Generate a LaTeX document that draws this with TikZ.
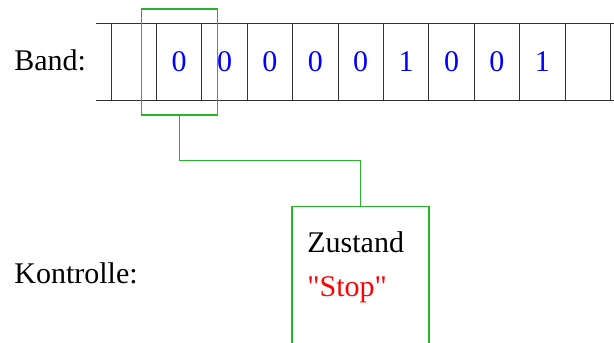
\documentclass[tikz,border=0pt]{standalone}
\usepackage{fontspec}
\setmainfont{Liberation Serif}[Ligatures=TeXOff]
\usepackage{xcolor}
\definecolor{HEADCOLOR}{RGB}{40,180,40}
\colorlet{TAPECOLOR}{black!80}
\colorlet{DIGITCOLOR}{blue}
\colorlet{STATECOLOR}{red}
\usetikzlibrary{positioning,calc}
\tikzset{
  text-style/.style = {
    inner sep=0pt, anchor=base west,
    font=\fontsize{15}{18}\selectfont
  },
  cell-style/.style = {
    rectangle, draw=TAPECOLOR, line width=0.5pt,
    minimum width=22.7pt, minimum height=38pt,
    inner sep=0pt, text=DIGITCOLOR,
    font=\fontsize{15}{18}\selectfont
  },
  tape-style/.style = {
    draw=TAPECOLOR, line width=0.5pt
  },
  head-style/.style = {
    rectangle, draw=HEADCOLOR, line width=0.6pt,
    minimum width=38pt, minimum height=53pt
  },
  state-style/.style = {
    rectangle, draw=HEADCOLOR, line width=0.6pt,
    minimum width=68.5pt, minimum height=90pt
  },
  link-style/.style = {
    draw=HEADCOLOR, line width=0.6pt
  }
}

\begin{document}
\begin{tikzpicture}[x=0.5pt,y=-0.5pt]
    \useasboundingbox (0,0) rectangle (614,342);

    %%% tape
    \foreach \d [count=\i] in {{},0,0,0,0,0,1,0,0,1,{}} {
      \node[cell-style] (cell-\i) at ({111+45.4*(\i-0.5)},62) {\d};
    }
    \draw[tape-style] ([xshift=-7.5pt]cell-1.north west) -- ([xshift=2pt]cell-11.north east);
    \draw[tape-style] ([xshift=-7.5pt]cell-1.south west) -- ([xshift=2pt]cell-11.south east);

    %%% head and control
    \node[head-style] (head) at (cell-2) {};
    \node[state-style,anchor=north] (state) at (360.5,206) {};
    \draw[link-style] (head.south) |- ($(head.south)!0.5!(state.north)$) -| (state.north);

    %%% labels
    \node[text-style] (band) at (14,70) {Band:};
    \node[text-style] (kontrolle) at (14,283) {Kontrolle:};
    \node[text-style] (zustand) at (307,252) {Zustand};
    \node[text-style,text=STATECOLOR] (stop) at (307,296) {"Stop"};
  \end{tikzpicture}
\end{document}
